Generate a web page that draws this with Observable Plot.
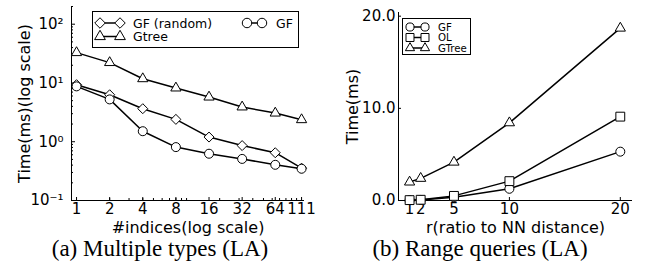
<!DOCTYPE html>
<html><head><meta charset="utf-8">
<script src="https://cdn.jsdelivr.net/npm/d3@7"></script>
<script src="https://cdn.jsdelivr.net/npm/@observablehq/plot@0.6"></script>
<style>
body{margin:0;background:#fff;}
#wrap{position:relative;width:649px;height:276px;overflow:hidden;font-family:"DejaVu Sans",sans-serif;}
.panel{position:absolute;top:0;}
#overlay{position:absolute;left:0;top:0;pointer-events:none;}
</style></head><body>
<div id="wrap"><div id="pa" class="panel" style="left:0"></div><div id="pb" class="panel" style="left:325px"></div></div>
<script>
// ---- Panel (a): Multiple types (LA) ----
const indices = [1, 2, 4, 8, 16, 32, 64, 111];
const gfRandomTime = [9.35, 6.3, 3.65, 2.4, 1.2, 0.86, 0.65, 0.355];
const gfTime = [8.75, 5.25, 1.51, 0.81, 0.625, 0.51, 0.405, 0.347];
const gtreeTime = [32.8, 22.2, 11.8, 8.2, 5.75, 3.9, 3.07, 2.37];
const logTicksY = [0.1, 1, 10, 100];
const logTickLabels = ["10\u207B\u00B9", "10\u2070", "10\u00B9", "10\u00B2"];
// ---- Panel (b): Range queries (LA) ----
const ratios = [1, 2, 5, 10, 20];
const gfRange = [0.03, 0.06, 0.35, 1.27, 5.3];
const olRange = [0.04, 0.08, 0.5, 2.1, 9.1];
const gtreeRange = [2.0, 2.4, 4.16, 8.43, 18.7];
const rangeTicksY = [0, 10, 20];

const seriesA = [
  {name: "GF (random)", symbol: "diamond2", r: 4.5, values: gfRandomTime},
  {name: "Gtree", symbol: "triangle", r: 3.8, values: gtreeTime},
  {name: "GF", symbol: "circle", r: 4.5, values: gfTime}
];
const seriesB = [
  {name: "GF", symbol: "circle", r: 4.5, values: gfRange},
  {name: "OL", symbol: "square", r: 5, values: olRange},
  {name: "GTree", symbol: "triangle", r: 3.8, values: gtreeRange}
];

const minorX = [2,3,4,5,6,7,8,9,10,20,30,40,50,60,70,80,90,100];
const minorY = [];
for (const e of [0.1, 1, 10]) for (let k = 2; k <= 9; k++) minorY.push(+(k * e).toPrecision(3));
minorY.push(200);

const style = {fontFamily: "DejaVu Sans", fontSize: "15px", background: "transparent", color: "black", overflow: "visible"};

function seriesMarks(series, xs) {
  const out = [];
  for (const s of series) {
    const rows = xs.map((x, i) => ({x, y: s.values[i]}));
    out.push(Plot.line(rows, {x: "x", y: "y", stroke: "black", strokeWidth: 1.5}));
    out.push(Plot.dot(rows, {x: "x", y: "y", symbol: () => s.symbol, r: s.r, fill: "white", stroke: "black", strokeWidth: 1}));
  }
  return out;
}

const plotA = Plot.plot({
  width: 325, height: 238, marginLeft: 71, marginRight: 21, marginTop: 6, marginBottom: 38,
  style,
  x: {type: "log", domain: [0.9, 118], label: null},
  y: {type: "log", domain: [0.1, 200], label: null},
  marks: [
    Plot.axisX(indices, {tickSize: -3, fill: "none", label: null}),
    Plot.axisX(minorX, {tickSize: -2, fill: "none", label: null}),
    Plot.axisY(logTicksY, {tickSize: -4, fill: "none", label: null}),
    Plot.axisY(minorY, {tickSize: -2, fill: "none", label: null}),
    Plot.text(indices, {x: d => d, text: d => String(d), frameAnchor: "bottom", lineAnchor: "top", dy: 3, fontSize: 15}),
    Plot.text(logTicksY, {y: d => d, text: (d, i) => logTickLabels[i], frameAnchor: "left", textAnchor: "end", dx: -8, fontSize: 15}),
    Plot.ruleX([0.9], {stroke: "black"}),
    Plot.ruleY([0.1], {stroke: "black"}),
    ...seriesMarks(seriesA, indices),
    Plot.text(["#indices(log scale)"], {text: d => d, frameAnchor: "bottom", dy: 27, fontSize: 16, lineAnchor: "middle"}),
    Plot.text(["Time(ms)(log scale)"], {text: d => d, frameAnchor: "left", textAnchor: "middle", rotate: -90, dx: -47, fontSize: 16, lineAnchor: "middle"})
  ]
});
document.getElementById("pa").append(plotA);

const plotB = Plot.plot({
  width: 324, height: 238, marginLeft: 73, marginRight: 17, marginTop: 12, marginBottom: 38,
  style,
  x: {domain: [0, 21.1], label: null},
  y: {domain: [0, 20.4], label: null},
  marks: [
    Plot.axisX(ratios, {tickSize: 0, tickPadding: 3, tickFormat: d => String(d), label: null}),
    Plot.axisX(ratios, {tickSize: -3, fill: "none", label: null}),
    Plot.axisY(rangeTicksY, {tickSize: 0, tickPadding: 3, tickFormat: d => d.toFixed(1), label: null}),
    Plot.axisY(rangeTicksY, {tickSize: -3, fill: "none", label: null}),
    Plot.ruleX([0], {stroke: "black"}),
    Plot.ruleY([0], {stroke: "black"}),
    ...seriesMarks(seriesB, ratios),
    Plot.text(["r(ratio to NN distance)"], {text: d => d, frameAnchor: "bottom", dy: 27, fontSize: 16, lineAnchor: "middle"}),
    Plot.text(["Time(ms)"], {text: d => d, frameAnchor: "left", textAnchor: "middle", rotate: -90, dx: -46, fontSize: 16, lineAnchor: "middle"})
  ]
});
document.getElementById("pb").append(plotB);

// ---- Legends and captions overlay ----
const symMap = {circle: d3.symbolCircle, square: d3.symbolSquare, triangle: d3.symbolTriangle, diamond2: d3.symbolDiamond2};
const svg = d3.select("#wrap").append("svg").attr("id", "overlay").attr("width", 649).attr("height", 276)
  .attr("font-family", "DejaVu Sans");

function legend(box, entries, fontSize, rScale) {
  svg.append("rect").attr("x", box.x).attr("y", box.y).attr("width", box.w).attr("height", box.h)
    .attr("fill", "white").attr("stroke", "black").attr("stroke-width", 1);
  for (const e of entries) {
    svg.append("line").attr("x1", e.x1).attr("x2", e.x2).attr("y1", e.y).attr("y2", e.y).attr("stroke", "black").attr("stroke-width", 1.5);
    const r = e.s.r * rScale;
    for (const x of [e.x1, e.x2]) {
      svg.append("path").attr("d", d3.symbol(symMap[e.s.symbol], Math.PI * r * r)())
        .attr("transform", `translate(${x},${e.y})`).attr("fill", "white").attr("stroke", "black");
    }
    svg.append("text").attr("x", e.tx).attr("y", e.y).attr("dy", "0.36em").attr("font-size", fontSize).text(e.s.name);
  }
}
legend({x: 92.5, y: 11.5, w: 206, h: 36}, [
  {s: seriesA[0], x1: 100, x2: 120, y: 23, tx: 133},
  {s: seriesA[1], x1: 100, x2: 120, y: 36.5, tx: 133},
  {s: seriesA[2], x1: 247, x2: 262, y: 23, tx: 276}
], 12.5, 1.05);
legend({x: 402.5, y: 18.5, w: 68, h: 36}, [
  {s: seriesB[0], x1: 410, x2: 425, y: 27, tx: 438},
  {s: seriesB[1], x1: 410, x2: 425, y: 37.5, tx: 438},
  {s: seriesB[2], x1: 410, x2: 425, y: 48, tx: 438}
], 10.2, 0.9);

svg.append("text").attr("x", 160).attr("y", 256).attr("text-anchor", "middle")
  .attr("font-family", "Liberation Serif").attr("font-size", 23).text("(a) Multiple types (LA)");
svg.append("text").attr("x", 480).attr("y", 256).attr("text-anchor", "middle")
  .attr("font-family", "Liberation Serif").attr("font-size", 23).text("(b) Range queries (LA)");
</script>
</body></html>
